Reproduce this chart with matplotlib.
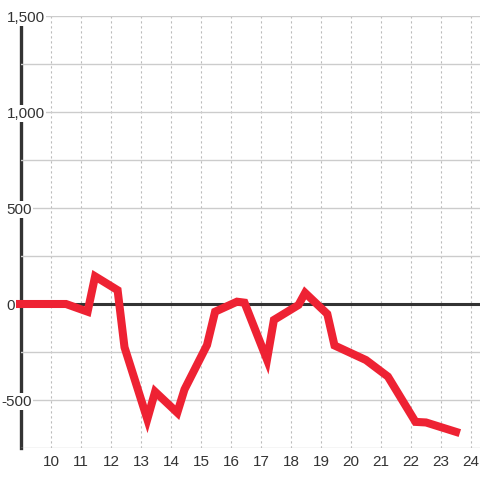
import matplotlib
matplotlib.use("Agg")
import matplotlib.pyplot as plt
from matplotlib.ticker import MultipleLocator
from matplotlib.transforms import ScaledTranslation

# values
hours = [8.9, 10.5, 11.22, 11.47, 12.22, 12.45, 13.21, 13.47, 14.21, 14.45,
         15.2, 15.47, 16.2, 16.45, 17.2, 17.43, 18.25, 18.47, 19.21, 19.45,
         20.5, 21.23, 22.15, 22.5, 23.5]
values = [0, 0, -40, 144, 72, -225, -600, -457, -566, -445,
          -214, -40, 12, 7, -290, -83, -5, 58, -52, -216,
          -292, -378, -614, -617, -666]

y_ticks = [-500, 0, 500, 1000, 1500]
x_ticks = list(range(10, 25))

fig = plt.figure(figsize=(4.8, 4.8), dpi=100)
ax = fig.add_axes([21 / 480, 32 / 480, 459 / 480, 432 / 480])

ax.set_xlim(9, 24.3)
ax.set_ylim(-750, 1500)

# grid
ax.yaxis.set_minor_locator(MultipleLocator(250))
ax.set_yticks(y_ticks)
ax.set_yticklabels([])
ax.set_xticks(x_ticks)
ax.grid(axis="y", which="both", color="#cccccc", lw=1, zorder=0)
ax.grid(axis="x", which="major", color="#bbbbbb", lw=0.8, ls=(0, (2, 2.5)), zorder=0)

for s in ["top", "right", "bottom"]:
    ax.spines[s].set_visible(False)
ax.spines["left"].set_color("#333333")
ax.spines["left"].set_linewidth(2.4)
ax.spines["left"].set_zorder(1)

ax.axhline(0, color="#333333", lw=2.2, zorder=2)
ax.plot(hours, values, color="#ee2233", lw=5.8, solid_joinstyle="miter",
        zorder=3, clip_on=False)

ax.tick_params(axis="both", which="both", length=0, labelsize=11, labelcolor="#333333")
ax.tick_params(axis="x", pad=5)
for lab in ax.get_xticklabels():
    lab.set_fontfamily("Liberation Sans")

# y labels sit over the spine on a white box, minus sign hangs left
ytrans = ax.get_yaxis_transform()
for v in y_ticks:
    shift = -14.5 if v >= 0 else -19.5
    ax.text(0, v, f"{v:,}", ha="left", va="center_baseline",
            transform=ytrans + ScaledTranslation(shift / 100, 0, fig.dpi_scale_trans),
            fontsize=11, color="#333333", family="Liberation Sans",
            bbox=dict(facecolor="white", edgecolor="none", pad=1.0),
            zorder=6, clip_on=False)

fig.savefig("out.png", dpi=100, facecolor="white")
